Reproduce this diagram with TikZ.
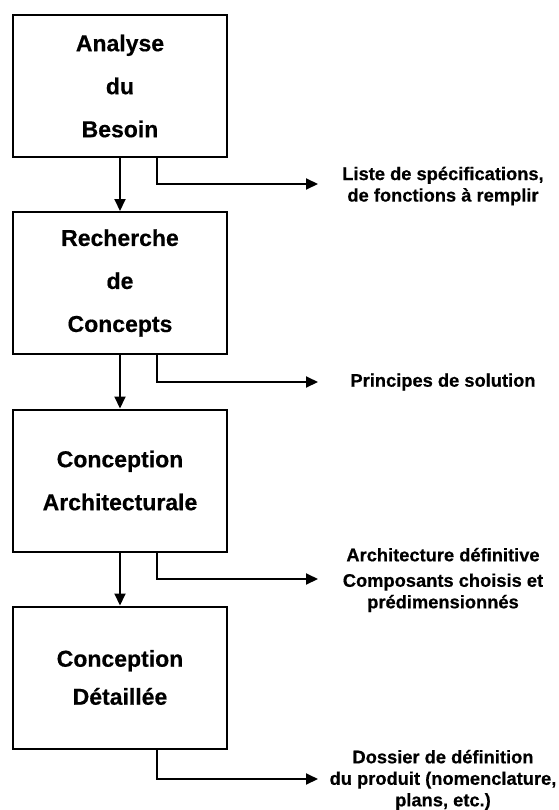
\documentclass[tikz,border=0pt]{standalone}
\usepackage{fontspec}
\setmainfont{Liberation Sans}[BoldFeatures={FakeBold=0.5}]
\usetikzlibrary{arrows.meta}
\begin{document}
\begin{tikzpicture}[x=1bp,y=-1bp,
  phase/.style={draw,line width=2bp,minimum width=214bp,minimum height=142bp,
    align=center,inner sep=0pt,font=\bfseries\fontsize{23bp}{43bp}\selectfont},
  output/.style={align=center,inner sep=0pt,font=\bfseries\fontsize{18.3bp}{21.5bp}\selectfont},
  flow/.style={line width=2bp,-{Triangle[length=12bp,width=11bp]}}]
\useasboundingbox (0,0) rectangle (559,810);
% process phases
\node[phase] (b1) at (120,86) {Analyse\\du\\Besoin};
\node[phase] (b2) at (120,283) {Recherche\\de\\Concepts};
\node[phase] (b3) at (120,480.5) {Conception\\Architecturale};
\node[phase,font=\bfseries\fontsize{23bp}{38bp}\selectfont] (b4) at (120,677.5) {Conception\\Détaillée};
% deliverables
\coordinate (t1) at (318,184);
\coordinate (t2) at (318,382);
\coordinate (t3) at (318,579);
\coordinate (t4) at (318,779);
\node[output] (o1) at (443,186) {Liste de spécifications,\\de fonctions à remplir};
\node[output] (o2) at (443,382) {Principes de solution};
\node[output] (o3) at (443,580) {Architecture définitive\\[4bp]Composants choisis et\\prédimensionnés};
\node[output] (o4) at (443,780) {Dossier de définition\\du produit (nomenclature,\\plans, etc.)};
% sequence between phases
\draw[flow] (b1.south) -- (b2.north);
\draw[flow] (b2.south) -- (b3.north);
\draw[flow] (b3.south) -- (b4.north);
% outputs of each phase
\draw[flow] ([xshift=37bp]b1.south) |- (t1);
\draw[flow] ([xshift=37bp]b2.south) |- (t2);
\draw[flow] ([xshift=37bp]b3.south) |- (t3);
\draw[flow] ([xshift=37bp]b4.south) |- (t4);
\end{tikzpicture}
\end{document}
